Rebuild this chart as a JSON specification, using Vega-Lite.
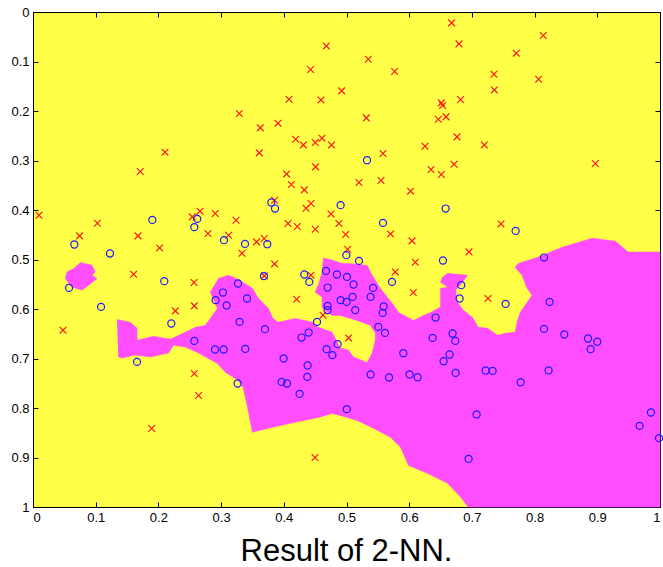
{
  "$schema": "https://vega.github.io/schema/vega-lite/v6.json",
  "width": 627,
  "height": 495,
  "autosize": {"type": "none"},
  "padding": {"left": 33, "top": 12, "right": 3, "bottom": 60},
  "background": "white",
  "title": {"text": "Result of 2-NN.", "orient": "bottom", "fontSize": 31, "font": "Liberation Sans", "fontWeight": "normal", "color": "black", "offset": 13, "anchor": "middle"},
  "config": {
    "view": {"fill": "#ffff47", "stroke": "black", "strokeWidth": 1},
    "axis": {"grid": false, "title": null, "domainColor": "black", "tickColor": "black", "labelColor": "black", "labelFont": "Liberation Sans", "labelFontSize": 13, "tickSize": -5, "tickWidth": 1, "domainWidth": 1}
  },
  "datasets": {
    "region": [
      {"p":"A","i":1,"x":0.134,"y":0.621},{"p":"A","i":2,"x":0.155,"y":0.627},{"p":"A","i":3,"x":0.166,"y":0.639},{"p":"A","i":4,"x":0.166,"y":0.663},{"p":"A","i":5,"x":0.192,"y":0.655},{"p":"A","i":6,"x":0.219,"y":0.661},{"p":"A","i":7,"x":0.246,"y":0.645},{"p":"A","i":8,"x":0.259,"y":0.637},{"p":"A","i":9,"x":0.275,"y":0.633},{"p":"A","i":10,"x":0.294,"y":0.599},
      {"p":"A","i":11,"x":0.283,"y":0.566},{"p":"A","i":12,"x":0.296,"y":0.538},{"p":"A","i":13,"x":0.312,"y":0.532},{"p":"A","i":14,"x":0.323,"y":0.538},{"p":"A","i":15,"x":0.335,"y":0.546},{"p":"A","i":16,"x":0.350,"y":0.558},{"p":"A","i":17,"x":0.359,"y":0.578},{"p":"A","i":18,"x":0.375,"y":0.598},{"p":"A","i":19,"x":0.383,"y":0.619},{"p":"A","i":20,"x":0.391,"y":0.627},
      {"p":"A","i":21,"x":0.418,"y":0.619},{"p":"A","i":22,"x":0.446,"y":0.627},{"p":"A","i":23,"x":0.455,"y":0.637},{"p":"A","i":24,"x":0.477,"y":0.647},{"p":"A","i":25,"x":0.490,"y":0.679},{"p":"A","i":26,"x":0.503,"y":0.683},{"p":"A","i":27,"x":0.511,"y":0.697},{"p":"A","i":28,"x":0.533,"y":0.708},{"p":"A","i":29,"x":0.541,"y":0.689},{"p":"A","i":30,"x":0.546,"y":0.663},
      {"p":"A","i":31,"x":0.546,"y":0.649},{"p":"A","i":32,"x":0.538,"y":0.633},{"p":"A","i":33,"x":0.517,"y":0.623},{"p":"A","i":34,"x":0.490,"y":0.613},{"p":"A","i":35,"x":0.477,"y":0.613},{"p":"A","i":36,"x":0.461,"y":0.598},{"p":"A","i":37,"x":0.461,"y":0.576},{"p":"A","i":38,"x":0.450,"y":0.566},{"p":"A","i":39,"x":0.455,"y":0.552},{"p":"A","i":40,"x":0.461,"y":0.526},
      {"p":"A","i":41,"x":0.463,"y":0.497},{"p":"A","i":42,"x":0.477,"y":0.501},{"p":"A","i":43,"x":0.493,"y":0.508},{"p":"A","i":44,"x":0.506,"y":0.508},{"p":"A","i":45,"x":0.533,"y":0.512},{"p":"A","i":46,"x":0.541,"y":0.532},{"p":"A","i":47,"x":0.554,"y":0.558},{"p":"A","i":48,"x":0.575,"y":0.592},{"p":"A","i":49,"x":0.583,"y":0.607},{"p":"A","i":50,"x":0.607,"y":0.623},
      {"p":"A","i":51,"x":0.623,"y":0.613},{"p":"A","i":52,"x":0.634,"y":0.607},{"p":"A","i":53,"x":0.650,"y":0.596},{"p":"A","i":54,"x":0.650,"y":0.558},{"p":"A","i":55,"x":0.662,"y":0.556},{"p":"A","i":56,"x":0.650,"y":0.546},{"p":"A","i":57,"x":0.653,"y":0.536},{"p":"A","i":58,"x":0.661,"y":0.528},{"p":"A","i":59,"x":0.693,"y":0.532},{"p":"A","i":60,"x":0.685,"y":0.546},
      {"p":"A","i":61,"x":0.674,"y":0.562},{"p":"A","i":62,"x":0.677,"y":0.586},{"p":"A","i":63,"x":0.686,"y":0.602},{"p":"A","i":64,"x":0.701,"y":0.617},{"p":"A","i":65,"x":0.710,"y":0.637},{"p":"A","i":66,"x":0.725,"y":0.639},{"p":"A","i":67,"x":0.741,"y":0.653},{"p":"A","i":68,"x":0.753,"y":0.649},{"p":"A","i":69,"x":0.769,"y":0.647},{"p":"A","i":70,"x":0.772,"y":0.627},
      {"p":"A","i":71,"x":0.777,"y":0.607},{"p":"A","i":72,"x":0.796,"y":0.572},{"p":"A","i":73,"x":0.788,"y":0.558},{"p":"A","i":74,"x":0.780,"y":0.532},{"p":"A","i":75,"x":0.769,"y":0.516},{"p":"A","i":76,"x":0.774,"y":0.508},{"p":"A","i":77,"x":0.806,"y":0.495},{"p":"A","i":78,"x":0.844,"y":0.475},{"p":"A","i":79,"x":0.892,"y":0.457},{"p":"A","i":80,"x":0.929,"y":0.463},
      {"p":"A","i":81,"x":0.949,"y":0.485},{"p":"A","i":82,"x":1.0,"y":0.485},{"p":"A","i":83,"x":1.0,"y":1.0},{"p":"A","i":84,"x":0.694,"y":1.0},{"p":"A","i":85,"x":0.682,"y":0.980},{"p":"A","i":86,"x":0.661,"y":0.952},{"p":"A","i":87,"x":0.629,"y":0.932},{"p":"A","i":88,"x":0.599,"y":0.916},{"p":"A","i":89,"x":0.586,"y":0.879},{"p":"A","i":90,"x":0.570,"y":0.859},
      {"p":"A","i":91,"x":0.543,"y":0.841},{"p":"A","i":92,"x":0.517,"y":0.825},{"p":"A","i":93,"x":0.490,"y":0.815},{"p":"A","i":94,"x":0.477,"y":0.811},{"p":"A","i":95,"x":0.455,"y":0.819},{"p":"A","i":96,"x":0.418,"y":0.829},{"p":"A","i":97,"x":0.382,"y":0.839},{"p":"A","i":98,"x":0.350,"y":0.849},{"p":"A","i":99,"x":0.342,"y":0.798},{"p":"A","i":100,"x":0.335,"y":0.758},
      {"p":"A","i":101,"x":0.327,"y":0.744},{"p":"A","i":102,"x":0.307,"y":0.728},{"p":"A","i":103,"x":0.294,"y":0.710},{"p":"A","i":104,"x":0.264,"y":0.689},{"p":"A","i":105,"x":0.243,"y":0.677},{"p":"A","i":106,"x":0.224,"y":0.673},{"p":"A","i":107,"x":0.216,"y":0.689},{"p":"A","i":108,"x":0.187,"y":0.697},{"p":"A","i":109,"x":0.163,"y":0.693},{"p":"A","i":110,"x":0.142,"y":0.699},
      {"p":"A","i":111,"x":0.136,"y":0.697},
      {"p":"B","i":1,"x":0.0754,"y":0.5061},{"p":"B","i":2,"x":0.0941,"y":0.5115},{"p":"B","i":3,"x":0.0994,"y":0.5251},{"p":"B","i":4,"x":0.0941,"y":0.5317},{"p":"B","i":5,"x":0.1021,"y":0.5384},{"p":"B","i":6,"x":0.0887,"y":0.5519},{"p":"B","i":7,"x":0.0781,"y":0.5620},{"p":"B","i":8,"x":0.0622,"y":0.5554},{"p":"B","i":9,"x":0.0515,"y":0.5384},{"p":"B","i":10,"x":0.0542,"y":0.5251},{"p":"B","i":11,"x":0.0648,"y":0.5182}
    ],
    "red": [
      {"x":0.2105,"y":0.2832},{"x":0.1711,"y":0.3222},{"x":0.4678,"y":0.0685},{"x":0.4427,"y":0.1162},{"x":0.4922,"y":0.1594},{"x":0.4083,"y":0.1762},{"x":0.4593,"y":0.1776},{"x":0.3290,"y":0.2051},{"x":0.3625,"y":0.2341},{"x":0.3907,"y":0.2246},
      {"x":0.4188,"y":0.2570},{"x":0.4311,"y":0.2685},{"x":0.4502,"y":0.2636},{"x":0.4609,"y":0.2549},{"x":0.4762,"y":0.2685},{"x":0.3609,"y":0.2846},{"x":0.4507,"y":0.3129},{"x":0.4045,"y":0.3271},{"x":0.6676,"y":0.0220},{"x":0.6794,"y":0.0644},
      {"x":0.5348,"y":0.0954},{"x":0.5767,"y":0.1202},{"x":0.7352,"y":0.1257},{"x":0.7357,"y":0.1574},{"x":0.6512,"y":0.1836},{"x":0.6533,"y":0.1889},{"x":0.6820,"y":0.1768},{"x":0.5316,"y":0.2139},{"x":0.6464,"y":0.2166},{"x":0.6587,"y":0.2119},
      {"x":0.6762,"y":0.2523},{"x":0.6252,"y":0.2711},{"x":0.7198,"y":0.2685},{"x":0.5582,"y":0.2859},{"x":0.6715,"y":0.3075},{"x":0.6348,"y":0.3182},{"x":0.6512,"y":0.3283},{"x":0.5550,"y":0.3404},{"x":0.5199,"y":0.3444},{"x":0.8139,"y":0.0475},
      {"x":0.7708,"y":0.0832},{"x":0.8064,"y":0.1358},{"x":0.8968,"y":0.3061},{"x":0.0096,"y":0.4105},{"x":0.1026,"y":0.4267},{"x":0.0743,"y":0.4523},{"x":0.1675,"y":0.4523},{"x":0.2019,"y":0.4766},{"x":0.1604,"y":0.5297},{"x":0.2270,"y":0.6038},
      {"x":0.0478,"y":0.6428},{"x":0.4120,"y":0.3485},{"x":0.4327,"y":0.3594},{"x":0.3853,"y":0.3802},{"x":0.4434,"y":0.3869},{"x":0.4354,"y":0.3964},{"x":0.2663,"y":0.4024},{"x":0.2541,"y":0.4139},{"x":0.2907,"y":0.4071},{"x":0.3238,"y":0.4206},
      {"x":0.4067,"y":0.4273},{"x":0.4215,"y":0.4333},{"x":0.4753,"y":0.4079},{"x":0.4880,"y":0.4273},{"x":0.4502,"y":0.4388},{"x":0.4986,"y":0.4495},{"x":0.2791,"y":0.4475},{"x":0.3120,"y":0.4509},{"x":0.3566,"y":0.4644},{"x":0.3689,"y":0.4576},
      {"x":0.3333,"y":0.4873},{"x":0.3853,"y":0.5089},{"x":0.5018,"y":0.4792},{"x":0.2568,"y":0.5465},{"x":0.3689,"y":0.5331},{"x":0.4434,"y":0.5317},{"x":0.2573,"y":0.5937},{"x":0.4204,"y":0.5802},{"x":0.4625,"y":0.6125},{"x":0.5033,"y":0.6584},
      {"x":0.6022,"y":0.3620},{"x":0.5703,"y":0.4483},{"x":0.6045,"y":0.4624},{"x":0.7464,"y":0.4281},{"x":0.6954,"y":0.4846},{"x":0.6097,"y":0.5055},{"x":0.5778,"y":0.5251},{"x":0.6065,"y":0.5667},{"x":0.7257,"y":0.5788},{"x":0.2573,"y":0.7303},
      {"x":0.2641,"y":0.7747},{"x":0.4498,"y":0.9000},{"x":0.1892,"y":0.8414}
    ],
    "blue": [
      {"x":0.5327,"y":0.2994},{"x":0.1903,"y":0.4200},{"x":0.0659,"y":0.4697},{"x":0.1228,"y":0.4879},{"x":0.0574,"y":0.5574},{"x":0.2094,"y":0.5438},{"x":0.1085,"y":0.5958},{"x":0.2206,"y":0.6293},{"x":0.2620,"y":0.4180},{"x":0.2573,"y":0.4347},
      {"x":0.3801,"y":0.3848},{"x":0.3860,"y":0.3970},{"x":0.4906,"y":0.3903},{"x":0.3046,"y":0.4610},{"x":0.3381,"y":0.4685},{"x":0.3737,"y":0.4691},{"x":0.4997,"y":0.4913},{"x":0.3684,"y":0.5337},{"x":0.4327,"y":0.5303},{"x":0.4407,"y":0.5453},
      {"x":0.4673,"y":0.5230},{"x":0.4848,"y":0.5303},{"x":0.5008,"y":0.5352},{"x":0.4699,"y":0.5566},{"x":0.3270,"y":0.5485},{"x":0.3030,"y":0.5667},{"x":0.2912,"y":0.5822},{"x":0.3088,"y":0.5929},{"x":0.3413,"y":0.5788},{"x":0.4906,"y":0.5822},
      {"x":0.5002,"y":0.5857},{"x":0.4699,"y":0.5937},{"x":0.4699,"y":0.6024},{"x":0.4530,"y":0.6261},{"x":0.3295,"y":0.6261},{"x":0.3700,"y":0.6408},{"x":0.4396,"y":0.6475},{"x":0.4284,"y":0.6576},{"x":0.2573,"y":0.6644},{"x":0.4858,"y":0.6711},
      {"x":0.6581,"y":0.3970},{"x":0.5582,"y":0.4261},{"x":0.5199,"y":0.5028},{"x":0.6539,"y":0.5020},{"x":0.5113,"y":0.5505},{"x":0.5726,"y":0.5453},{"x":0.5423,"y":0.5574},{"x":0.6831,"y":0.5519},{"x":0.5097,"y":0.5756},{"x":0.5384,"y":0.5756},
      {"x":0.6804,"y":0.5788},{"x":0.5592,"y":0.5949},{"x":0.5140,"y":0.6024},{"x":0.5576,"y":0.6079},{"x":0.6421,"y":0.6172},{"x":0.5507,"y":0.6362},{"x":0.5614,"y":0.6483},{"x":0.6373,"y":0.6584},{"x":0.6692,"y":0.6495},{"x":0.6735,"y":0.6644},
      {"x":0.7697,"y":0.4422},{"x":0.8150,"y":0.4960},{"x":0.7537,"y":0.5897},{"x":0.8239,"y":0.5857},{"x":0.8150,"y":0.6402},{"x":0.8474,"y":0.6515},{"x":0.8852,"y":0.6596},{"x":0.9000,"y":0.6661},{"x":0.1659,"y":0.7069},{"x":0.2903,"y":0.6818},
      {"x":0.3040,"y":0.6818},{"x":0.3386,"y":0.6806},{"x":0.3997,"y":0.7000},{"x":0.4380,"y":0.7141},{"x":0.4375,"y":0.7372},{"x":0.4683,"y":0.6812},{"x":0.4774,"y":0.6933},{"x":0.3263,"y":0.7505},{"x":0.3965,"y":0.7473},{"x":0.4051,"y":0.7505},
      {"x":0.4252,"y":0.7715},{"x":0.5005,"y":0.8024},{"x":0.5906,"y":0.6893},{"x":0.6644,"y":0.6919},{"x":0.6549,"y":0.7055},{"x":0.5384,"y":0.7323},{"x":0.5678,"y":0.7384},{"x":0.6006,"y":0.7323},{"x":0.6134,"y":0.7378},{"x":0.6740,"y":0.7291},
      {"x":0.7219,"y":0.7242},{"x":0.7330,"y":0.7251},{"x":0.7075,"y":0.8131},{"x":0.6947,"y":0.9028},{"x":0.7777,"y":0.7479},{"x":0.8223,"y":0.7242},{"x":0.8893,"y":0.6812},{"x":0.9856,"y":0.8091},{"x":0.9675,"y":0.8362},{"x":0.9984,"y":0.8610}
    ]
  },
  "layer": [
    {
      "data": {"name": "region"},
      "mark": {"type": "line", "fill": "#ff4dff", "stroke": "#ff4dff", "strokeWidth": 0.5, "interpolate": "linear"},
      "encoding": {
        "x": {"field": "x", "type": "quantitative", "scale": {"domain": [0, 1], "nice": false, "zero": false}, "axis": {"orient": "bottom", "values": [0,0.1,0.2,0.3,0.4,0.5,0.6,0.7,0.8,0.9,1], "format": "~g", "labelPadding": 9}},
        "y": {"field": "y", "type": "quantitative", "scale": {"domain": [0, 1], "nice": false, "zero": false, "reverse": true}, "axis": {"orient": "left", "values": [0,0.1,0.2,0.3,0.4,0.5,0.6,0.7,0.8,0.9,1], "format": "~g", "labelPadding": 9}},
        "detail": {"field": "p", "type": "nominal"},
        "order": {"field": "i", "type": "quantitative"}
      }
    },
    {
      "data": {"name": "red"},
      "mark": {"type": "point", "shape": "M-1,-1L1,1M1,-1L-1,1", "filled": false, "stroke": "#ff1a1a", "strokeWidth": 1.2, "size": 45, "opacity": 1},
      "encoding": {
        "x": {"field": "x", "type": "quantitative", "axis": null},
        "y": {"field": "y", "type": "quantitative", "axis": null}
      }
    },
    {
      "data": {"name": "blue"},
      "mark": {"type": "point", "shape": "circle", "filled": false, "stroke": "#1a1aff", "strokeWidth": 1.2, "size": 50, "opacity": 1},
      "encoding": {
        "x": {"field": "x", "type": "quantitative", "axis": {"orient": "top", "values": [0,0.1,0.2,0.3,0.4,0.5,0.6,0.7,0.8,0.9,1], "labels": false}},
        "y": {"field": "y", "type": "quantitative", "axis": {"orient": "right", "values": [0,0.1,0.2,0.3,0.4,0.5,0.6,0.7,0.8,0.9,1], "labels": false}}
      }
    }
  ],
  "resolve": {"axis": {"x": "independent", "y": "independent"}}
}
